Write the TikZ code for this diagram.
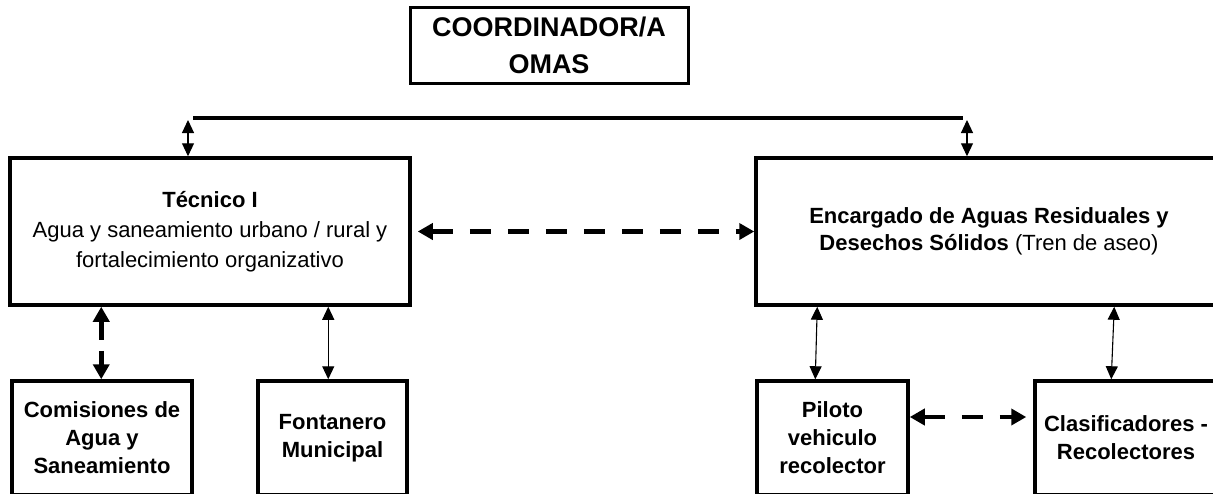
\documentclass[tikz,border=0pt]{standalone}
\usepackage{fontspec}
\setmainfont{Liberation Sans}
\usetikzlibrary{arrows.meta,calc}
\begin{document}
\begin{tikzpicture}[x=1pt,y=-1pt,
  box/.style={draw,line width=3.5pt,rectangle,inner sep=0pt,align=center},
  thinarrow/.style={line width=1.1pt,{Triangle[length=13pt,width=12pt]}-{Triangle[length=13pt,width=12pt]}},
  dasharrow/.style={line width=4.5pt,dash pattern=on 21pt off 17pt,{Triangle[length=15pt,width=16pt]}-{Triangle[length=15pt,width=16pt]}},
  bigtxt/.style={font=\fontsize{27}{37}\selectfont\bfseries},
  midtxt/.style={font=\fontsize{22}{30}\selectfont},
  smalltxt/.style={font=\fontsize{22}{28}\selectfont\bfseries}]
\useasboundingbox (0,0) rectangle (1213,493);
\fill[white] (0,0) rectangle (1213,493);

\node[box,line width=3pt,bigtxt,minimum width=278pt,minimum height=76pt] (coord) at (549,45) {COORDINADOR/A\\OMAS};

\node[box,midtxt,minimum width=400pt,minimum height=147pt] (tec) at (210,231.5)
  {\textbf{Técnico I}\\Agua y saneamiento urbano / rural y\\fortalecimiento organizativo};
\node[box,font=\fontsize{22}{27}\selectfont,minimum width=466pt,minimum height=147pt] (enc) at (989,231.5)
  {\textbf{Encargado de Aguas Residuales y}\\\textbf{Desechos Sólidos} (Tren de aseo)};

\node[box,smalltxt,minimum width=180pt,minimum height=114pt] (com) at (102,438) {Comisiones de\\Agua y\\Saneamiento};
\node[box,smalltxt,minimum width=149pt,minimum height=114pt] (fon) at (332.5,438) {Fontanero\\Municipal};
\node[box,smalltxt,minimum width=151pt,minimum height=114pt] (pil) at (832.5,438) {Piloto\\vehiculo\\recolector};
\node[box,smalltxt,minimum width=182pt,minimum height=114pt] (cla) at (1126,438) {Clasificadores -\\Recolectores};

% top connector line
\coordinate (lineL) at (193,118);
\coordinate (lineR) at (963,118);
\draw[line width=3.2pt] (lineL) -- (lineR);
\coordinate (jl) at (188,120);
\coordinate (jr) at (967,120);
\draw[thinarrow] (jl) -- (jl |- tec.north);
\draw[thinarrow] (jr) -- (jr |- enc.north);

% horizontal dashed between top boxes
\draw[dasharrow,shorten <=6pt] (tec.east) -- (tec.east -| enc.west);

% lower connectors left
\draw[dasharrow,dash pattern=on 19pt off 11pt] ($(tec.south west)+(93,0)$) -- ($(com.north west)+(91,0)$);
\draw[thinarrow] ($(tec.south west)+(320,0)$) -- ($(fon.north west)+(72,0)$);

% lower connectors right
\draw[thinarrow] ($(enc.south west)+(63,0)$) -- ($(pil.north west)+(60,0)$);
\draw[thinarrow] ($(enc.south west)+(360,0)$) -- ($(cla.north west)+(78,0)$);
\draw[dasharrow,shorten >=7pt] ([yshift=21pt]pil.east) -- ([yshift=21pt]pil.east -| cla.west);
\end{tikzpicture}
\end{document}
